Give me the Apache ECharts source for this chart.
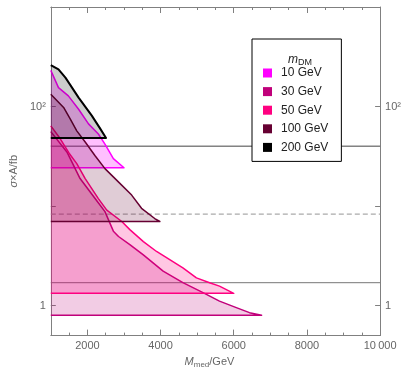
<!DOCTYPE html>
<html>
<head>
<meta charset="utf-8">
<script src="https://cdn.jsdelivr.net/npm/echarts@6/dist/echarts.min.js"></script>
<style>
  html, body { margin: 0; padding: 0; background: #fff; }
  #main { width: 404px; height: 374px; }
</style>
</head>
<body>
<div id="main"></div>
<script>
// mediator mass (GeV) and sigma x A (fb) for each dark matter mass
var massNames = ['10 GeV', '30 GeV', '50 GeV', '100 GeV', '200 GeV'];

var mMed10 = [1000, 1210, 1480, 1760, 2030, 2300, 2480, 2710, 3000];
var sig10 = [231, 155, 128, 94, 67, 53, 42, 30, 24.3];

var mMed30 = [1000, 1440, 1800, 2210, 2480, 2710, 2850, 3160, 3520, 4070, 4610, 5160, 5610, 6070, 6430, 6760];
var sig30 = [56, 35, 18.9, 11.9, 8.8, 5.6, 4.95, 4.1, 3.25, 2.22, 1.70, 1.35, 1.11, 0.955, 0.85, 0.80];

var mMed50 = [1000, 1250, 1500, 1710, 1940, 2300, 2530, 2940, 3160, 3530, 3890, 4250, 4610, 4980, 5340, 5610, 6000];
var sig50 = [64, 48, 34, 26.7, 18.9, 11.9, 9.1, 7.0, 5.8, 4.4, 3.5, 2.9, 2.39, 1.90, 1.70, 1.57, 1.33];

var mMed100 = [1000, 1350, 1530, 1710, 1940, 2210, 2480, 2840, 3210, 3480, 3840, 3980];
var sig100 = [133, 98, 75, 57, 44, 32, 23.8, 17.6, 12.9, 9.5, 7.5, 7.0];

var mMed200 = [1000, 1210, 1400, 1760, 2120, 2350, 2510];
var sig200 = [261, 236, 195, 123, 81, 60, 48.4];

// horizontal reference levels
var refLevels = [40, 8.3, 1.7];

var xTicksMajor = [2000, 4000, 6000, 8000, 10000];
var yTicks = [1, 10, 100];
var yLabels = [1, 100];

var strokeColors = ['#ff00ff', '#c0007a', '#ff0080', '#660032', '#000000'];
var fillColors = ['rgba(255,0,255,0.25)', 'rgba(192,0,122,0.2)', 'rgba(255,0,128,0.22)', 'rgba(102,0,50,0.2)', 'rgba(0,0,0,0.2)'];

var chart = echarts.init(document.getElementById('main'));

function shape(idx, xs, ys, lw) {
  return {
    name: massNames[idx],
    type: 'custom',
    silent: true,
    clip: true,
    itemStyle: { color: strokeColors[idx] },
    encode: { x: 0, y: 1 },
    data: xs.map(function (x, i) { return [x, ys[i]]; }),
    renderItem: function (params, api) {
      if (params.dataIndex !== 0) return null;
      var pts = xs.map(function (x, i) { return api.coord([x, ys[i]]); });
      var floorEnd = api.coord([xs[0], ys[ys.length - 1]]);
      var line = pts.concat([floorEnd]);
      return {
        type: 'group',
        children: [
          { type: 'polygon', shape: { points: line }, style: { fill: fillColors[idx], stroke: null } },
          { type: 'polyline', shape: { points: line }, style: { fill: null, stroke: strokeColors[idx], lineWidth: lw, lineJoin: 'round' } }
        ]
      };
    }
  };
}

var refStyles = [
  { color: '#444', width: 1, type: 'solid' },
  { color: '#aaa', width: 1.3, type: [5, 3] },
  { color: '#777', width: 1, type: 'solid' }
];

var refSeries = refLevels.map(function (lvl, i) {
  return {
    name: 'ref' + i,
    type: 'line',
    silent: true,
    symbol: 'none',
    z: 1,
    data: [[1000, lvl], [10000, lvl]],
    lineStyle: refStyles[i]
  };
});

var axisGray = '#808080';
var labelStyle = { color: '#666', fontSize: 11, fontFamily: 'Liberation Sans' };

function xAxisDef(pos, major, showLabel) {
  return {
    type: 'value', position: pos, min: 1000, max: 10000, interval: 500,
    axisLine: { show: !major, onZero: false, lineStyle: { color: axisGray } },
    axisTick: major
      ? { inside: true, length: 6, customValues: xTicksMajor, lineStyle: { color: axisGray } }
      : { inside: true, length: 3, lineStyle: { color: axisGray } },
    axisLabel: showLabel ? Object.assign({
      customValues: xTicksMajor, margin: 5,
      formatter: function (v) { return v === 10000 ? '10\u2009000' : String(v); }
    }, labelStyle) : { show: false },
    splitLine: { show: false }
  };
}

function yAxisDef(pos, withName) {
  var ax = {
    type: 'log', logBase: 10, position: pos, min: 0.5, max: 1000,
    axisLine: { show: true, onZero: false, lineStyle: { color: axisGray } },
    axisTick: { inside: true, length: 5, customValues: yTicks, lineStyle: { color: axisGray } },
    axisLabel: Object.assign({
      customValues: yLabels, margin: 5,
      formatter: function (v) { return v === 100 ? '10\u00b2' : v === 1 ? '1' : ''; }
    }, labelStyle),
    splitLine: { show: false }
  };
  if (withName) {
    ax.name = '{s|\u03c3}\u00d7A/fb';
    ax.nameLocation = 'middle';
    ax.nameGap = 30;
    ax.nameTextStyle = {
      color: '#666', fontSize: 11, fontFamily: 'Liberation Sans',
      rich: { s: { fontStyle: 'italic', color: '#666', fontSize: 11, fontFamily: 'Liberation Sans' } }
    };
  }
  return ax;
}

var xMain = xAxisDef('bottom', false, true);
xMain.name = '{i|M}{s|med}/GeV';
xMain.nameLocation = 'middle';
xMain.nameGap = 19;
xMain.nameTextStyle = {
  color: '#666', fontSize: 11, fontFamily: 'Liberation Sans', padding: [0, 12, 0, 0],
  rich: {
    i: { fontStyle: 'italic', color: '#666', fontSize: 11, fontFamily: 'Liberation Sans' },
    s: { color: '#666', fontSize: 8, fontFamily: 'Liberation Sans', padding: [6, 0, 0, 0] }
  }
};

var option = {
  animation: false,
  backgroundColor: '#fff',
  grid: { left: 50.5, right: 23, top: 7, bottom: 37 },
  title: {
    text: '{i|m}{s|DM}', left: 283, top: 47, z: 10,
    textStyle: {
      fontWeight: 'normal',
      rich: {
        i: { fontStyle: 'italic', fontWeight: 'normal', color: '#222', fontSize: 12, fontFamily: 'Liberation Sans' },
        s: { fontWeight: 'normal', color: '#222', fontSize: 9, fontFamily: 'Liberation Sans', padding: [6, 0, 0, 0] }
      }
    }
  },
  legend: {
    orient: 'vertical', left: 252, top: 39, z: 8,
    data: massNames.map(function (n, i) { return { name: n, icon: 'rect', itemStyle: { color: strokeColors[i] } }; }),
    itemWidth: 9, itemHeight: 9, itemGap: 6.6,
    padding: [28, 13, 8, 11],
    backgroundColor: '#fff', borderColor: '#000', borderWidth: 1, borderRadius: 0,
    selectedMode: false,
    textStyle: { color: '#222', fontSize: 12, fontFamily: 'Liberation Sans', lineHeight: 12, padding: [0, 0, 0, 4] }
  },
  xAxis: [xMain, xAxisDef('bottom', true, false), xAxisDef('top', false, false), xAxisDef('top', true, false)],
  yAxis: [yAxisDef('left', true), yAxisDef('right', false)],
  series: refSeries.concat([
    shape(0, mMed10, sig10, 1.5),
    shape(1, mMed30, sig30, 1.5),
    shape(2, mMed50, sig50, 1.5),
    shape(3, mMed100, sig100, 1.5),
    shape(4, mMed200, sig200, 2)
  ])
};

chart.setOption(option);
</script>
</body>
</html>
